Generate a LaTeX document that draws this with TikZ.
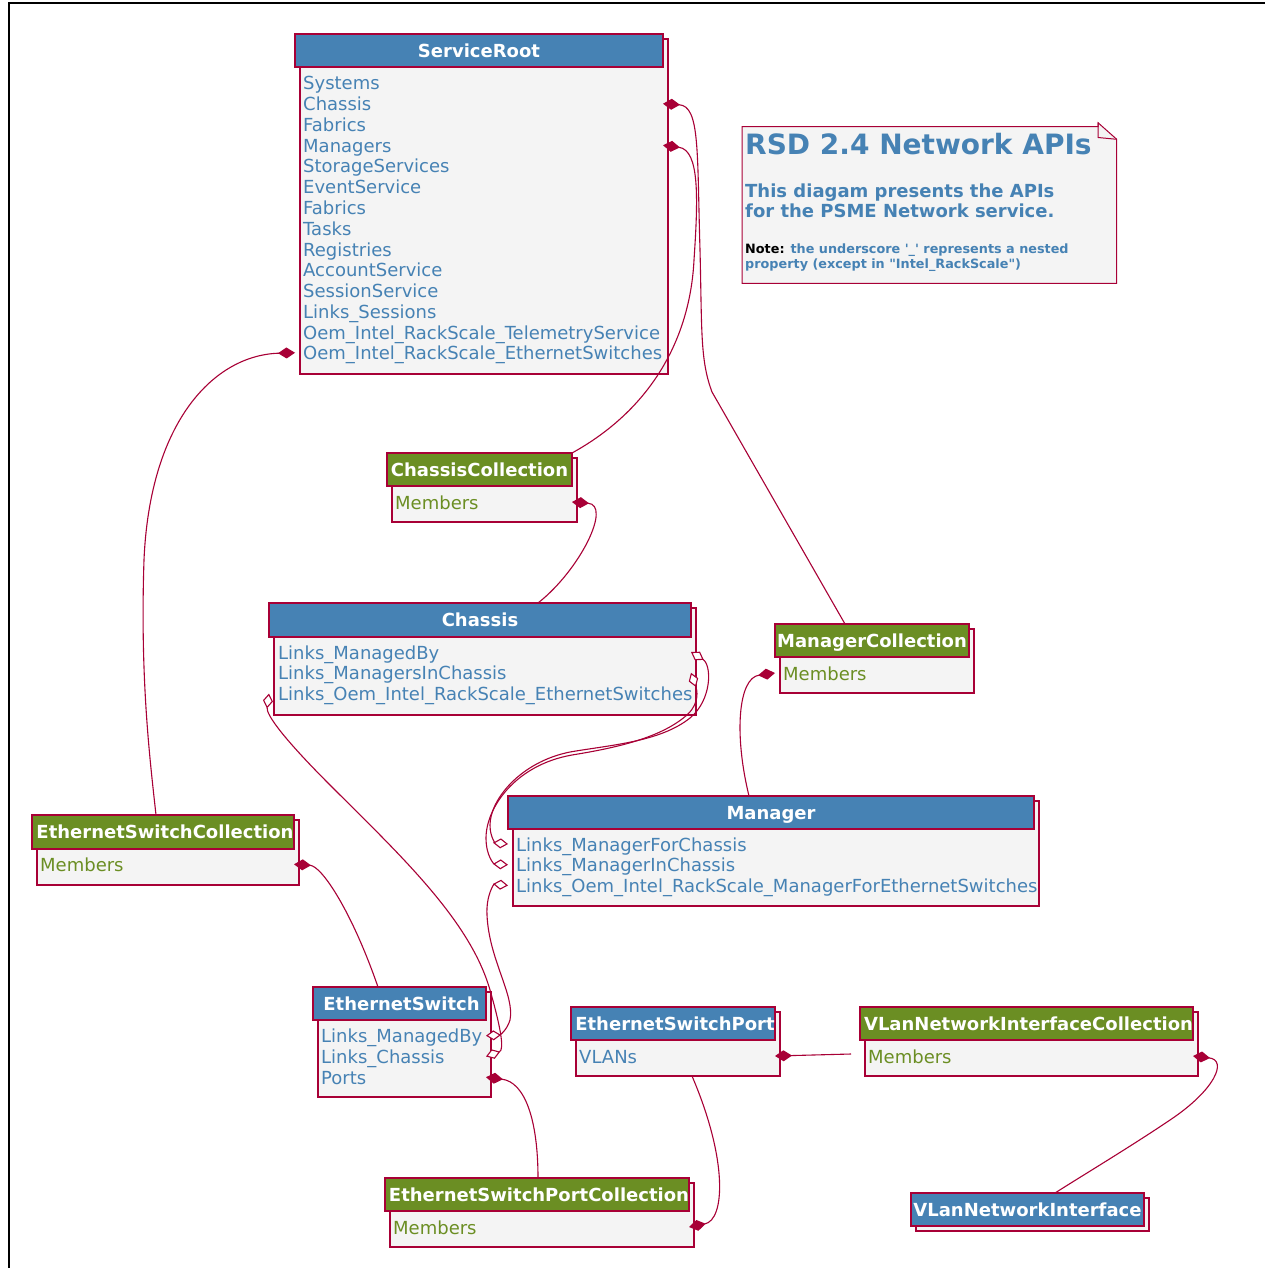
\documentclass[tikz,border=0pt]{standalone}
\usepackage{fontspec}
\setmainfont{DejaVu Sans}
\usetikzlibrary{arrows.meta}
\definecolor{hblue}{HTML}{4682B4}
\definecolor{hgreen}{HTML}{6B8E23}
\definecolor{bord}{HTML}{A80036}
\definecolor{bfill}{HTML}{F4F4F4}
\newcommand{\umlbox}[7]{%
  \node[bodybox, anchor=north west, minimum width={#4-#2}, minimum height={#6-#3-5}] (#1-b) at ({#2+5},{#3+5}) {};
  \node[headbox, fill=#7, anchor=north west, minimum width={#4-#2}, minimum height={#5-#3}] (#1) at (#2,#3) {};
}
\begin{document}
\begin{tikzpicture}[x=1pt,y=-1pt,
  headbox/.style={draw=bord,line width=1.8pt,inner sep=0pt,outer sep=0pt},
  bodybox/.style={draw=bord,fill=bfill,line width=1.4pt,inner sep=0pt,outer sep=0pt},
  ttl/.style={text=white,font=\fontsize{18}{21}\selectfont\bfseries,inner sep=0pt,text height=17.2pt,text depth=4pt},
  attrrow/.style={text=hblue,font=\fontsize{18}{21}\selectfont,inner sep=0pt,anchor=west,text height=18pt,text depth=4pt},
  memberrow/.style={attrrow,text=hgreen},
  notetxt/.style={text=hblue,inner sep=0pt,anchor=base west},
  link/.style={draw=bord,line width=1.1pt},
  comp/.style={link,{Diamond[length=17pt,width=11pt]}-},
  aggr/.style={link,{Diamond[open,length=15pt,width=10pt,fill=white]}-{Diamond[open,length=15pt,width=10pt,fill=white]}},
]
\useasboundingbox (0,0) rectangle (1265,1268);
\fill[white] (0,0) rectangle (1265,1268);
\draw[line width=2pt] (9,1275) -- (9,3) -- (1275,3);

% ---------- boxes ----------
\umlbox{sr}{295}{34}{663}{67}{374}{hblue}
\node[ttl] (sr-t) at (sr.center) {ServiceRoot};
\node[attrrow] (sr-r1) at (303,83) {Systems};
\node[attrrow] (sr-r2) at (303,103.75) {Chassis};
\node[attrrow] (sr-r3) at (303,124.5) {Fabrics};
\node[attrrow] (sr-r4) at (303,145.25) {Managers};
\node[attrrow] (sr-r5) at (303,166) {StorageServices};
\node[attrrow] (sr-r6) at (303,186.75) {EventService};
\node[attrrow] (sr-r7) at (303,207.5) {Fabrics};
\node[attrrow] (sr-r8) at (303,228.25) {Tasks};
\node[attrrow] (sr-r9) at (303,249) {Registries};
\node[attrrow] (sr-r10) at (303,269.75) {AccountService};
\node[attrrow] (sr-r11) at (303,290.5) {SessionService};
\node[attrrow] (sr-r12) at (303,311.25) {Links\_Sessions};
\node[attrrow] (sr-r13) at (303,332) {Oem\_Intel\_RackScale\_TelemetryService};
\node[attrrow] (sr-r14) at (303,352.75) {Oem\_Intel\_RackScale\_EthernetSwitches};

\umlbox{cc}{387}{453}{572}{486}{522}{hgreen}
\node[ttl] (cc-t) at (cc.center) {ChassisCollection};
\node[memberrow] (cc-m) at (395,502) {Members};

\umlbox{ch}{269}{603}{691}{637}{715}{hblue}
\node[ttl] (ch-t) at (ch.center) {Chassis};
\node[attrrow] (ch-r1) at (278,652) {Links\_ManagedBy};
\node[attrrow] (ch-r2) at (278,672.75) {Links\_ManagersInChassis};
\node[attrrow] (ch-r3) at (278,693.5) {Links\_Oem\_Intel\_RackScale\_EthernetSwitches};

\umlbox{mc}{775}{624}{969}{657}{693}{hgreen}
\node[ttl] (mc-t) at (mc.center) {ManagerCollection};
\node[memberrow] (mc-m) at (783,673) {Members};

\umlbox{man}{508}{796}{1034}{829}{906}{hblue}
\node[ttl] (man-t) at (man.center) {Manager};
\node[attrrow] (man-r1) at (516,844) {Links\_ManagerForChassis};
\node[attrrow] (man-r2) at (516,864.75) {Links\_ManagerInChassis};
\node[attrrow] (man-r3) at (516,885.5) {Links\_Oem\_Intel\_RackScale\_ManagerForEthernetSwitches};

\umlbox{esc}{32}{815}{294}{849}{885}{hgreen}
\node[ttl] (esc-t) at ([xshift=2pt]esc.center) {EthernetSwitchCollection};
\node[memberrow] (esc-m) at (40,864.3) {Members};

\umlbox{es}{313}{987}{486}{1020}{1097}{hblue}
\node[ttl] (es-t) at ([xshift=2pt]es.center) {EthernetSwitch};
\node[attrrow] (es-r1) at (321,1035.7) {Links\_ManagedBy};
\node[attrrow] (es-r2) at (321,1056.5) {Links\_Chassis};
\node[attrrow] (es-r3) at (321,1077.2) {Ports};

\umlbox{esp}{571}{1007}{775}{1040}{1076}{hblue}
\node[ttl] (esp-t) at ([xshift=2pt]esp.center) {EthernetSwitchPort};
\node[attrrow] (esp-m) at (579,1056) {VLANs};

\umlbox{vnic}{860}{1007}{1193}{1040}{1076}{hgreen}
\node[ttl] (vnic-t) at ([xshift=2pt]vnic.center) {VLanNetworkInterfaceCollection};
\node[memberrow] (vnic-m) at (868,1056) {Members};

\umlbox{espc}{385}{1178}{689}{1211}{1247}{hgreen}
\node[ttl] (espc-t) at ([xshift=2pt]espc.center) {EthernetSwitchPortCollection};
\node[memberrow] (espc-m) at (393,1227) {Members};

\umlbox{vni}{911}{1193}{1144}{1226}{1231}{hblue}
\node[ttl] (vni-t) at (vni.center) {VLanNetworkInterface};

% ---------- note ----------
\path[draw=bord, fill=bfill, line width=1pt] (742,126.7) -- (1098,126.7) -- (1098,122.7) -- (1116.7,139.3) -- (1116.7,283.3) -- (742,283.3) -- cycle;
\draw[bord, line width=1pt] (1098,122.7) -- (1098,137.5) -- (1116.7,139.3);
\node[notetxt, font=\fontsize{28}{32}\selectfont\bfseries] (note-title) at (745,155) {RSD 2.4 Network APIs};
\node[notetxt, font=\fontsize{18}{21}\selectfont\bfseries] (note-l1) at (745,197.3) {This diagam presents the APIs};
\node[notetxt, font=\fontsize{18}{21}\selectfont\bfseries] (note-l2) at (745,217.3) {for the PSME Network service.};
\node[notetxt, font=\fontsize{12.8}{15}\selectfont\bfseries] (note-l3) at (745,253.3) {\textcolor{black}{Note:} the underscore \textquotesingle\_\textquotesingle{} represents a nested};
\node[notetxt, font=\fontsize{12.8}{15}\selectfont\bfseries] (note-l4) at (745,268.7) {property (except in \textquotedbl Intel\_RackScale\textquotedbl)};

% ---------- compositions ----------
\draw[comp] (sr.east |- sr-r2) .. controls (700,106) and (697,150) .. (700,250) .. controls (702,330) and (700,360) .. (712,392) -- ([xshift=-27pt]mc.north);
\draw[comp] (sr.east |- sr-r4) .. controls (700,150) and (698,200) .. (694,260) .. controls (690,340) and (650,410) .. (cc.north east);
\draw[comp] (sr.west |- sr-r14) .. controls (215,355) and (150,420) .. (144,560) .. controls (140,680) and (150,760) .. ([xshift=-7pt]esc.north);
\draw[comp] (cc.east |- cc-m) .. controls (612,505) and (580,570) .. ([xshift=58pt]ch.north);
\draw[comp] (mc.west |- mc-m) .. controls (738,678) and (734,735) .. ([xshift=-22pt]man.north);
\draw[comp] (esc.east |- esc-m) .. controls (322,866) and (352,912) .. ([xshift=-21.5pt]es.north);
\draw[comp] (es.east |- es-r3) .. controls (525,1082) and (538,1120) .. ([xshift=1pt]espc.north);
\draw[comp] (espc.east |- espc-m) .. controls (725,1220) and (728,1160) .. ([xshift=14pt]esp-b.south);
\draw[comp] (esp.east |- esp-m) -- ([xshift=-9pt,yshift=2pt]vnic.west |- vnic-m);
\draw[comp] (vnic.east |- vnic-m) .. controls (1228,1060) and (1215,1090) .. (1170,1120) .. controls (1130,1147) and (1080,1177) .. ([xshift=27.5pt]vni.north);

% ---------- aggregations ----------
\draw[aggr] (ch.east |- ch-r1) .. controls (712,665) and (712,700) .. (690,718) .. controls (660,742) and (610,745) .. (570,752) .. controls (520,762) and (490,800) .. (490,825) .. controls (490,838) and (496,843) .. (man.west |- man-r1);
\draw[aggr] (ch.east |- ch-r2) .. controls (697,690) and (700,702) .. (688,714) .. controls (662,738) and (615,748) .. (572,755) .. controls (515,765) and (486,808) .. (486,838) .. controls (486,856) and (494,864) .. (man.west |- man-r2);
\draw[aggr] (man.west |- man-r3) .. controls (494,884) and (486,895) .. (487,915) .. controls (489,960) and (515,995) .. (510,1020) .. controls (507,1030) and (500,1035) .. (es.east |- es-r1);
\draw[aggr] (ch.west |- ch-r3) .. controls (266,715) and (285,740) .. (330,785) .. controls (400,855) and (470,920) .. (490,990) .. controls (500,1025) and (505,1050) .. (es.east |- es-r2);
\end{tikzpicture}
\end{document}
